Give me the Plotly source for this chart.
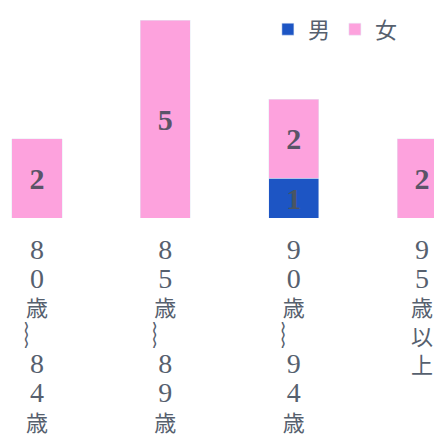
import plotly.graph_objects as go

categories = ["80歳～84歳", "85歳～89歳", "90歳～94歳", "95歳以上"]
tick_chars = [
    ["8", "0", "歳", "︴", "8", "4", "歳"],
    ["8", "5", "歳", "︴", "8", "9", "歳"],
    ["9", "0", "歳", "︴", "9", "4", "歳"],
    ["9", "5", "歳", "以", "上"],
]
male = [0, 0, 1, 0]
female = [2, 5, 2, 2]

TEXT = "#56606e"
SERIF = "Liberation Serif, Noto Sans CJK JP, serif"


def stack_chars(chars):
    out = []
    for c in chars:
        if c.isdigit():
            out.append(f'<span style="font-size:28px">{c}</span>')
        elif c == "︴":
            out.append(f'<span style="font-size:26px">{c}</span>')
        else:
            out.append(c)
    return "<br>".join(out)


def labels(vals):
    return [str(v) if v else "" for v in vals]


tick_labels = [stack_chars(c) for c in tick_chars]

fig = go.Figure()
fig.add_trace(go.Bar(
    x=categories, y=male, name="男",
    marker_color="#1d55c4",
    text=labels(male), textposition="inside", insidetextanchor="middle",
    textangle=0, constraintext="none",
    textfont=dict(family=SERIF, size=30, color="#4a5563", weight="bold"),
    width=0.39,
))
fig.add_trace(go.Bar(
    x=categories, y=female, name="女",
    marker_color="#fda2dd",
    text=labels(female), textposition="inside", insidetextanchor="middle",
    textangle=0, constraintext="none",
    textfont=dict(family=SERIF, size=30, color="#5a5468", weight="bold"),
    width=0.39,
))

fig.update_layout(
    barmode="stack",
    width=442, height=437,
    margin=dict(l=0, r=0, t=0, b=227),
    paper_bgcolor="white",
    plot_bgcolor="white",
    showlegend=True,
    legend=dict(
        orientation="h", traceorder="normal",
        x=0.588, y=0.92, xanchor="left", yanchor="middle",
        font=dict(family=SERIF, size=22, color=TEXT),
        bgcolor="rgba(0,0,0,0)", entrywidth=22,
    ),
    xaxis=dict(
        range=[-0.226, 3.218],
        tickmode="array", tickvals=categories, ticktext=tick_labels,
        showline=False, showgrid=False, zeroline=False, ticks="",
        tickfont=dict(family=SERIF, size=22, color=TEXT),
        tickangle=0, automargin=False, ticklabelstandoff=18,
    ),
    yaxis=dict(
        range=[0, 5.18], visible=False, showgrid=False, zeroline=False,
        automargin=False,
    ),
    uniformtext=dict(mode="show", minsize=10),
)

fig.write_html("out.html")
